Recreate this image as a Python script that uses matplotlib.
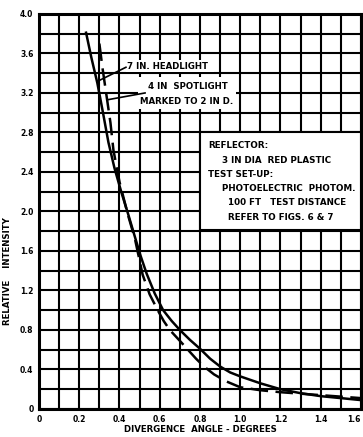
import matplotlib
matplotlib.use("Agg")
import matplotlib.pyplot as plt
from matplotlib.patches import Rectangle
from matplotlib.ticker import MultipleLocator

# --- data ---
headlight_x = [0.234, 0.26, 0.29, 0.318, 0.345, 0.375, 0.41, 0.445, 0.477, 0.505, 0.535, 0.575,
               0.617, 0.66, 0.70, 0.75, 0.80, 0.85, 0.90, 0.95, 1.0, 1.1, 1.2, 1.3, 1.4, 1.5, 1.6]
headlight_y = [3.81, 3.56, 3.30, 3.00, 2.70, 2.44, 2.19, 1.96, 1.74, 1.55, 1.37, 1.17,
               1.00, 0.89, 0.80, 0.70, 0.61, 0.51, 0.43, 0.37, 0.33, 0.26, 0.20, 0.16, 0.13, 0.11, 0.09]
spot_x = [0.30, 0.315, 0.33, 0.355, 0.37, 0.40, 0.44, 0.477, 0.515, 0.55, 0.59, 0.62, 0.65,
          0.70, 0.74, 0.78, 0.82, 0.87, 0.93, 1.0, 1.1, 1.2, 1.3, 1.4, 1.5, 1.6]
spot_y = [3.70, 3.46, 3.25, 2.90, 2.62, 2.30, 1.98, 1.72, 1.36, 1.16, 1.00, 0.89, 0.80,
          0.69, 0.60, 0.51, 0.43, 0.35, 0.28, 0.22, 0.19, 0.17, 0.155, 0.14, 0.125, 0.11]

x_ticks = [0, 0.2, 0.4, 0.6, 0.8, 1.0, 1.2, 1.4, 1.6]
x_labels = ["0", "0.2", "0.4", "0.6", "0.8", "1.0", "1.2", "1.4", "1.6"]
y_ticks = [0, 0.4, 0.8, 1.2, 1.6, 2.0, 2.4, 2.8, 3.2, 3.6, 4.0]
y_labels = ["0", "0.4", "0.8", "1.2", "1.6", "2.0", "2.4", "2.8", "3.2", "3.6", "4.0"]

info_lines = [
    ("REFLECTOR:", 0.84, 2.67),
    ("3 IN DIA  RED PLASTIC", 0.91, 2.52),
    ("TEST SET-UP:", 0.84, 2.37),
    ("PHOTOELECTRIC  PHOTOM.", 0.91, 2.23),
    ("100 FT   TEST DISTANCE", 0.94, 2.09),
    ("REFER TO FIGS. 6 & 7", 0.94, 1.94),
]

plt.rcParams['font.family'] = ['DejaVu Sans']
plt.rcParams['font.weight'] = 'bold'

fig = plt.figure(figsize=(3.63, 4.37), dpi=100)
ax = fig.add_axes([0.1074, 0.0641, 0.8871, 0.904])
ax.set_xlim(0, 1.6)
ax.set_ylim(0, 4.0)

ax.xaxis.set_minor_locator(MultipleLocator(0.1))
ax.yaxis.set_minor_locator(MultipleLocator(0.2))
ax.set_xticks(x_ticks)
ax.set_xticklabels(x_labels)
ax.set_yticks(y_ticks)
ax.set_yticklabels(y_labels)
ax.grid(which='both', color='black', linewidth=1.5, zorder=0)
ax.set_axisbelow(True)
ax.tick_params(which='both', length=0, labelsize=5.5, pad=4)
for lab in ax.get_xticklabels() + ax.get_yticklabels():
    lab.set_fontweight('bold')
ax.get_xticklabels()[-1].set_horizontalalignment('right')
for s in ax.spines.values():
    s.set_linewidth(2.2)

ax.plot(headlight_x, headlight_y, color='black', linewidth=1.8, zorder=3)
ax.plot(spot_x, spot_y, color='black', linewidth=1.8, linestyle=(0, (7, 3)), zorder=3)

# white backgrounds for labels
ax.add_patch(Rectangle((0.43, 3.41), 0.44, 0.12, facecolor='white', edgecolor='none', zorder=2))
ax.add_patch(Rectangle((0.49, 3.04), 0.49, 0.32, facecolor='white', edgecolor='none', zorder=2))
ax.text(0.437, 3.465, "7 IN. HEADLIGHT", fontsize=6.2, fontweight='bold', va='center', ha='left', zorder=4)
ax.text(0.74, 3.265, "4 IN  SPOTLIGHT", fontsize=6.2, fontweight='bold', va='center', ha='center', zorder=4)
ax.text(0.735, 3.11, "MARKED TO 2 IN D.", fontsize=6.2, fontweight='bold', va='center', ha='center', zorder=4)
ax.plot([0.432, 0.293], [3.46, 3.32], color='black', linewidth=1.2, zorder=4)
ax.plot([0.527, 0.338], [3.20, 3.13], color='black', linewidth=1.2, zorder=4)

ax.add_patch(Rectangle((0.80, 1.81), 0.80, 0.99, facecolor='white', edgecolor='black',
                       linewidth=1.5, zorder=2))
for txt, tx, ty in info_lines:
    ax.text(tx, ty, txt, fontsize=6.3, fontweight='bold', va='center', ha='left', zorder=4)

ax.set_xlabel("DIVERGENCE  ANGLE - DEGREES", fontsize=6.2, fontweight='bold', labelpad=1)
ax.set_ylabel("RELATIVE    INTENSITY", fontsize=6.2, fontweight='bold')
ax.yaxis.set_label_coords(-0.085, 0.35)

fig.savefig("out.png", dpi=100, facecolor='white')
